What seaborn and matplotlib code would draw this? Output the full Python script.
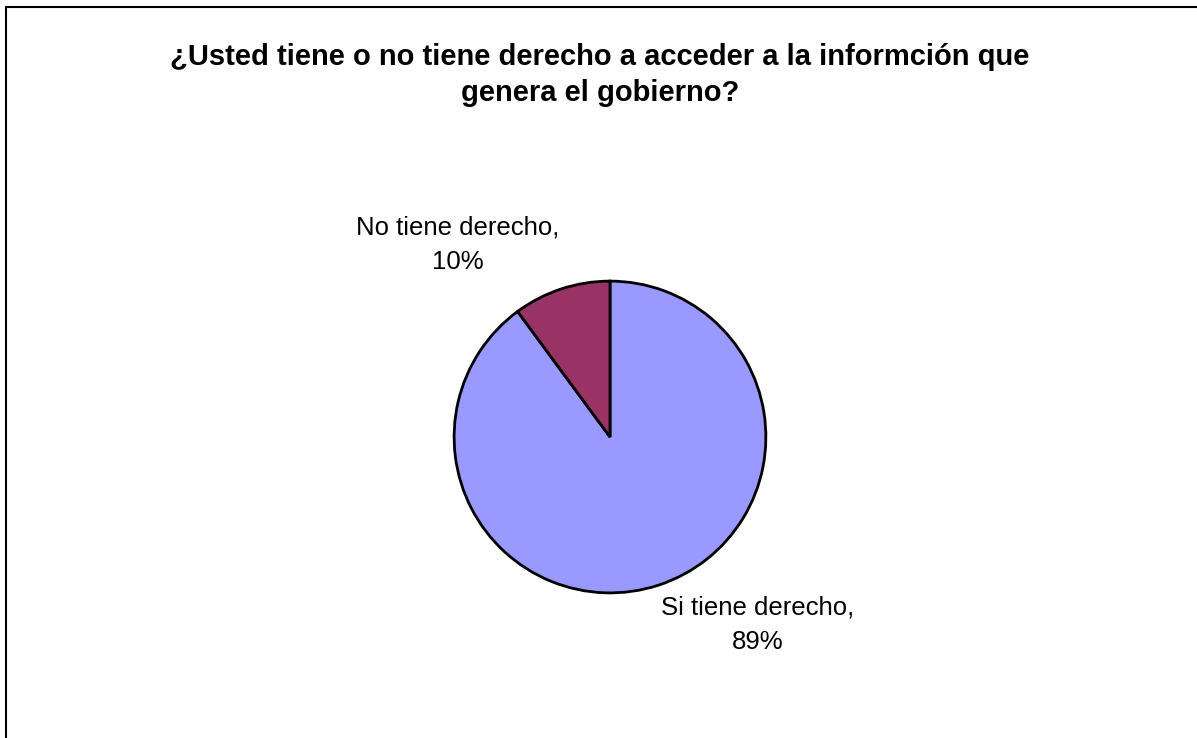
import matplotlib
matplotlib.use('Agg')
import matplotlib.pyplot as plt
import seaborn as sns

categorias = ['Si tiene derecho', 'No tiene derecho']
porcentajes = [89, 10]
colores = ['#9999FF', '#993366']
titulo = '¿Usted tiene o no tiene derecho a acceder a la informción que\ngenera el gobierno?'

sns.set_theme(style='white')
plt.rcParams['font.family'] = ['Liberation Sans', 'DejaVu Sans']
plt.rcParams['text.color'] = 'black'

W, H = 1197, 738
fig = plt.figure(figsize=(W / 100, H / 100), dpi=100)

# borde del area del grafico
fig.add_artist(plt.Rectangle((6 / W, -0.1), 1.2, (H - 7) / H + 0.1,
                             transform=fig.transFigure, fill=False,
                             edgecolor='black', linewidth=1.5))

cx, cy, r = 610, 437, 159
ax = fig.add_axes([(cx - r) / W, (H - cy - r) / H, 2 * r / W, 2 * r / H])
ax.pie(porcentajes, colors=colores, startangle=90, counterclock=False,
       wedgeprops=dict(edgecolor='black', linewidth=2))
ax.set_xlim(-1.02, 1.02)
ax.set_ylim(-1.02, 1.02)
ax.axis('off')

fig.text(600 / W, 1 - 75 / H, titulo, ha='center', va='center',
         fontsize=21, fontweight='bold', linespacing=1.32)

posiciones = {'Si tiene derecho': (758, 625), 'No tiene derecho': (458, 245)}
for cat, val in zip(categorias, porcentajes):
    x, y = posiciones[cat]
    fig.text(x / W, 1 - y / H, f'{cat},\n{val}%', ha='center', va='center',
             fontsize=18.5, linespacing=1.55)

fig.savefig('out.png', dpi=100)
